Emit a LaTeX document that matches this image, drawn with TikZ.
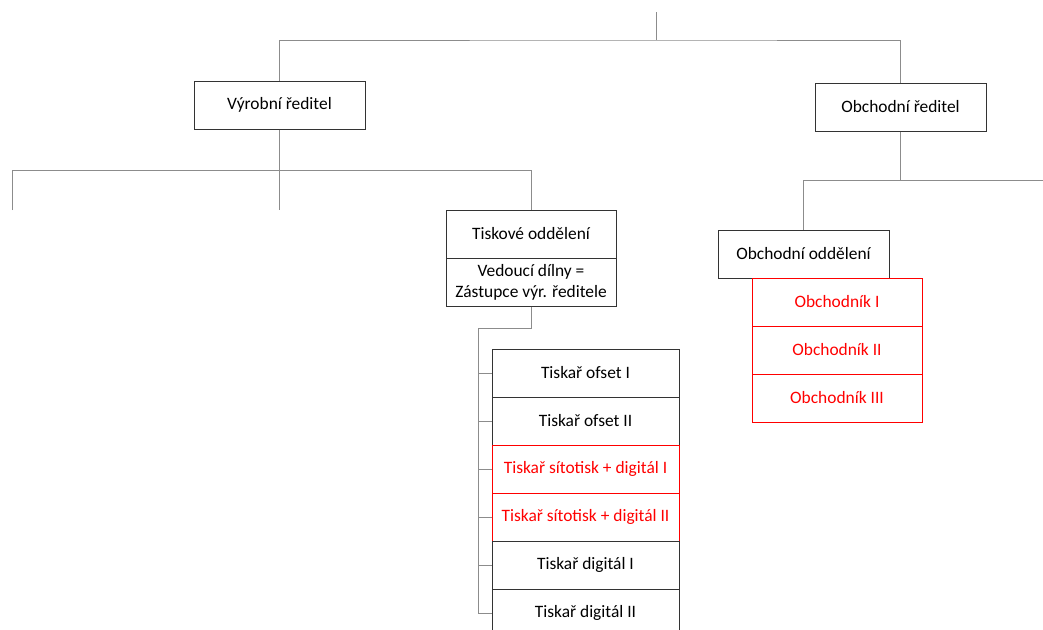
\documentclass[tikz,border=0pt]{standalone}
\usepackage{fontspec}
\setmainfont{Carlito}
\begin{document}
\begin{tikzpicture}[x=1pt,y=-1pt,
  box/.style={draw=black!80, line width=1pt, fill=white, minimum width=171pt,
    minimum height=48pt, inner sep=0pt, align=center,
    font=\fontsize{17.4}{21}\selectfont},
  redbox/.style={box, draw=red, text=red},
  conn/.style={draw=black!45, line width=1pt}]
\useasboundingbox (0,0) rectangle (1043,629);
\clip (0,0) rectangle (1043,629);

% directors
\node[box] (vr) at (279.5,105) {Výrobní ředitel};
\node[box] (or) at (900.5,107) {Obchodní ředitel};

% print department
\node[box, minimum width=170pt] (tisk) at (531,234) {Tiskové oddělení};
\node[box, minimum width=170pt] (ved) at (531,282) {Vedoucí dílny =\\Zástupce výr. ředitele};

% sales department
\node[box] (oo) at (803.5,254) {Obchodní oddělení};
\node[redbox, minimum width=170pt] (s1) at (837,302) {Obchodník I};
\node[redbox, minimum width=170pt] (s2) at (837,350) {Obchodník II};
\node[redbox, minimum width=170pt] (s3) at (837,398) {Obchodník III};

% printers
\node[box, minimum width=187pt] (p1) at (585.5,373) {Tiskař ofset I};
\node[box, minimum width=187pt] (p2) at (585.5,421) {Tiskař ofset II};
\node[redbox, minimum width=187pt] (p3) at (585.5,469) {Tiskař sítotisk + digitál I};
\node[redbox, minimum width=187pt] (p4) at (585.5,517) {Tiskař sítotisk + digitál II};
\node[box, minimum width=187pt] (p5) at (585.5,565) {Tiskař digitál I};
\node[box, minimum width=187pt] (p6) at (585.5,613) {Tiskař digitál II};

% free ends of the tree
\coordinate (root) at (656,12);
\coordinate (l1) at (12,210);
\coordinate (l2) at (279.5,210);
\coordinate (r1) at (1043,180);
\coordinate (trunk) at (478,328);

% top level
\draw[conn] (root) -- (656,40) coordinate (rj);
\draw[conn] (vr.north) |- (rj) -| (or.north);

% production branch
\draw[conn] (vr.south) -- ++(0,41) coordinate (vj) -- (l2);
\draw[conn] (l1) |- (vj) -| (tisk.north);

% sales branch
\draw[conn] (or.south) -- ++(0,49) coordinate (oj);
\draw[conn] (oo.north) |- (r1);

% printers
\draw[conn] (ved.south) |- (trunk) -- (trunk |- p6.west);
\foreach \i in {1,...,6}
  \draw[conn] (trunk |- p\i.west) -- (p\i.west);
\end{tikzpicture}
\end{document}
